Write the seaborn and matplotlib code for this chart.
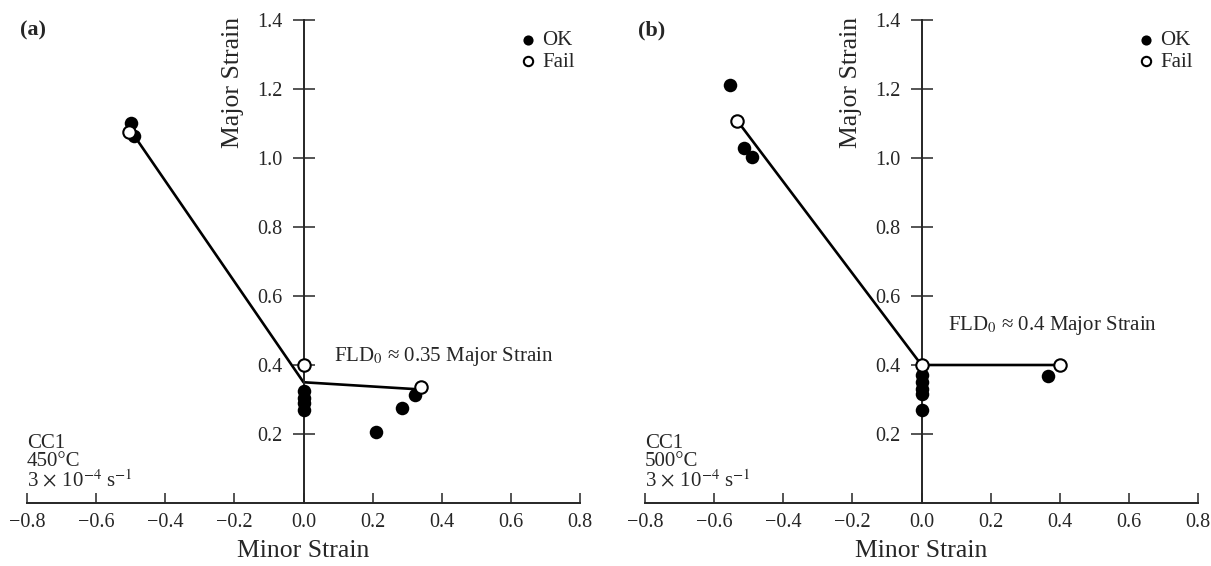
import matplotlib
matplotlib.use('Agg')
import matplotlib.pyplot as plt
import pandas as pd
import seaborn as sns

# panel (a): 450C
ok_x_a = [-0.499, -0.491, 0.0, 0.0, 0.0, 0.0, 0.209, 0.284, 0.322]
ok_y_a = [1.101, 1.064, 0.325, 0.305, 0.29, 0.27, 0.205, 0.275, 0.312]
fail_x_a = [-0.504, 0.0, 0.339]
fail_y_a = [1.075, 0.4, 0.335]
fld_x_a = [-0.49, 0.0, 0.325]
fld_y_a = [1.065, 0.35, 0.33]

# panel (b): 500C
ok_x_b = [-0.555, -0.514, -0.49, 0.0, 0.0, 0.0, 0.0, 0.0, 0.367]
ok_y_b = [1.212, 1.028, 1.003, 0.37, 0.35, 0.33, 0.315, 0.27, 0.368]
fail_x_b = [-0.533, 0.0, 0.40]
fail_y_b = [1.108, 0.4, 0.4]
fld_x_b = [-0.533, 0.0, 0.4]
fld_y_b = [1.108, 0.4, 0.4]

x_ticks = [-0.8, -0.6, -0.4, -0.2, 0.0, 0.2, 0.4, 0.6, 0.8]
y_ticks = [0.2, 0.4, 0.6, 0.8, 1.0, 1.2, 1.4]

panels = [
    dict(tag='(a)', ok=(ok_x_a, ok_y_a), fail=(fail_x_a, fail_y_a), fld=(fld_x_a, fld_y_a),
         temp='450°C', note='FLD$_0$ ≈ 0.35 Major Strain', note_xy=(0.089, 0.425)),
    dict(tag='(b)', ok=(ok_x_b, ok_y_b), fail=(fail_x_b, fail_y_b), fld=(fld_x_b, fld_y_b),
         temp='500°C', note='FLD$_0$ ≈ 0.4 Major Strain', note_xy=(0.078, 0.515)),
]

sns.set_style('ticks')
plt.rcParams['font.family'] = ['Liberation Serif', 'DejaVu Serif']
plt.rcParams['mathtext.fontset'] = 'stix'

fig = plt.figure(figsize=(12.11, 5.66), dpi=100)
lefts = [27 / 1211, 645 / 1211]
bottom = (566 - 503) / 566
height = 483 / 566
width = 553 / 1211

for p, left in zip(panels, lefts):
    ax = fig.add_axes([left, bottom, width, height])
    df = pd.concat([
        pd.DataFrame({'minor': p['ok'][0], 'major': p['ok'][1], 'status': 'OK'}),
        pd.DataFrame({'minor': p['fail'][0], 'major': p['fail'][1], 'status': 'Fail'}),
    ])
    line = pd.DataFrame({'minor': p['fld'][0], 'major': p['fld'][1]})

    sns.lineplot(data=line, x='minor', y='major', sort=False, color='black',
                 linewidth=1.9, ax=ax, zorder=2)
    sns.scatterplot(data=df[df.status == 'OK'], x='minor', y='major', color='black',
                    s=95, edgecolor='black', linewidth=0, ax=ax, zorder=3, label='OK')
    sns.scatterplot(data=df[df.status == 'Fail'], x='minor', y='major', color='white',
                    s=80, edgecolor='black', linewidth=1.5, ax=ax, zorder=4, label='Fail')

    ax.spines['top'].set_visible(False)
    ax.spines['right'].set_visible(False)
    ax.spines['left'].set_position(('data', 0))
    ax.spines['left'].set_linewidth(1.4)
    ax.spines['bottom'].set_linewidth(1.4)

    ax.set_xlim(-0.8, 0.8)
    ax.set_ylim(0, 1.4)
    ax.set_xticks(x_ticks)
    ax.set_yticks(y_ticks)
    ax.set_xticklabels([f'{t:.1f}'.replace('-', '\u2212') for t in x_ticks])
    ax.set_yticklabels([f'{t:.1f}' for t in y_ticks])
    ax.tick_params(axis='x', direction='in', length=7, width=1.1, pad=7, labelsize=14.5)
    ax.tick_params(axis='y', direction='inout', length=16, width=1.1, pad=7, labelsize=14.5)
    ax.set_xlabel('Minor Strain', fontsize=18.5, labelpad=6)
    ax.set_ylabel('')
    ax.text(-0.204, 1.219, 'Major Strain', rotation=90, fontsize=18.5,
            ha='center', va='center')

    handles, labels = ax.get_legend_handles_labels()
    ax.legend(handles, labels, loc='upper left', bbox_to_anchor=(0.875, 1.0),
              frameon=False, fontsize=15, handlelength=0.6, handletextpad=0.4,
              labelspacing=0.1, borderpad=0, markerscale=0.75)

    ax.text(p['note_xy'][0], p['note_xy'][1], p['note'], fontsize=15, va='center')
    ax.text(-0.8, 0.159, 'CC1', fontsize=15, va='baseline')
    ax.text(-0.8, 0.107, p['temp'], fontsize=15, va='baseline')
    ax.text(-0.8, 0.048, r'3$\,\times\,$10$^{-4}$ s$^{-1}$', fontsize=15, va='baseline')

    fig.text(left - 0.006, 0.947, p['tag'], fontsize=16, fontweight='bold', va='center')

fig.savefig('out.png', dpi=100)
